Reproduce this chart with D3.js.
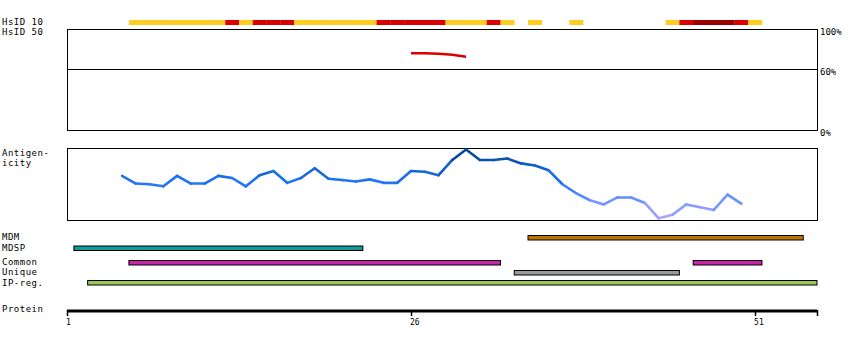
<!DOCTYPE html>
<html>
<head>
<meta charset="utf-8">
<script src="https://cdn.jsdelivr.net/npm/d3@7"></script>
<style>
  body { margin: 0; background: #fff; }
  svg { display: block; }
  text { font-family: "DejaVu Sans Mono", monospace; font-size: 9px; letter-spacing: 0.5px; fill: #000; }
</style>
</head>
<body>
<svg width="850" height="350"></svg>
<script>
// protein length and axis ticks
var proteinLength = 55;
var axisTicks = [1, 26, 51];

// HsID 10 track, one level per residue (0 none, 1 yellow, 2 red, 3 dark red), residues 1..55
var hsid10 = [0,0,0,0,0,1,1,1,1,1,1,1,2,1,2,2,2,1,1,1,1,1,1,2,2,2,2,2,1,1,1,2,1,0,1,0,0,1,0,0,0,0,0,0,1,2,3,3,3,2,1,0,0,0,0];

// HsID 50 identity (%) for residues 26..30
var hsid50Start = 26;
var hsid50 = [76, 76, 75.5, 74.5, 72.5];

// antigenicity for residues 5..50 (relative units)
var antigenStart = 5;
var antigenicity = [0.62,0.51,0.50,0.47,0.62,0.51,0.51,0.62,0.59,0.47,0.63,0.69,0.52,0.59,0.73,0.58,0.56,0.54,0.57,0.52,0.52,0.69,0.68,0.63,0.85,1.00,0.85,0.85,0.87,0.80,0.77,0.70,0.50,0.37,0.27,0.21,0.31,0.31,0.23,0.01,0.06,0.21,0.17,0.13,0.35,0.22];

// feature tracks: [row, start, end]
var features = [
  {name: "MDM",    row: 0, start: 35, end: 54, color: "#bb7700"},
  {name: "MDSP",   row: 1, start: 2,  end: 22, color: "#119a9a"},
  {name: "Common", row: 2, start: 6,  end: 32, color: "#cc22aa"},
  {name: "Common", row: 2, start: 47, end: 51, color: "#cc22aa"},
  {name: "Unique", row: 3, start: 34, end: 45, color: "#999999"},
  {name: "IP-reg.",row: 4, start: 3,  end: 55, color: "#99c855"}
];
var rowY = [235, 245.5, 260, 270, 280];

var svg = d3.select("svg");
var x = d3.scaleLinear().domain([1, proteinLength + 0.5]).range([67, 817]);

var levelColor = ["none", "#ffcc22", "#dd0000", "#990000"];

// left labels
var labels = [
  ["HsID 10", 22], ["HsID 50", 32],
  ["Antigen-", 153], ["icity", 163],
  ["MDM", 237], ["MDSP", 248],
  ["Common", 262], ["Unique", 272], ["IP-reg.", 283],
  ["Protein", 309]
];
svg.selectAll("text.lbl").data(labels).enter().append("text")
  .attr("class", "lbl")
  .attr("x", 2)
  .attr("y", function(d) { return d[1]; })
  .attr("dominant-baseline", "middle")
  .text(function(d) { return d[0]; });

// HsID 10 bar
svg.selectAll("rect.h10")
  .data(hsid10.map(function(v, i) { return {res: i + 1, v: v}; }).filter(function(d) { return d.v > 0; }))
  .enter().append("rect")
  .attr("class", "h10")
  .attr("x", function(d) { return x(d.res - 0.5); })
  .attr("width", function(d) { return x(d.res + 0.5) - x(d.res - 0.5) + 0.3; })
  .attr("y", 20)
  .attr("height", 5)
  .attr("fill", function(d) { return levelColor[d.v]; });

// HsID 50 panel
var yId = d3.scaleLinear().domain([0, 100]).range([130, 29]);
svg.append("rect")
  .attr("x", x(1) + 0.5).attr("y", yId(100) + 0.5)
  .attr("width", x(proteinLength + 0.5) - x(1)).attr("height", yId(0) - yId(100))
  .attr("fill", "none").attr("stroke", "#000");
svg.append("line")
  .attr("x1", x(1)).attr("x2", x(proteinLength + 0.5))
  .attr("y1", Math.round(yId(60)) + 0.5).attr("y2", Math.round(yId(60)) + 0.5)
  .attr("stroke", "#000");
[[100, "100%"], [60, "60%"], [0, "0%"]].forEach(function(t) {
  svg.append("text")
    .attr("x", x(proteinLength + 0.5) + 3)
    .attr("y", yId(t[0]) + 3)
    .attr("dominant-baseline", "middle")
    .style("letter-spacing", "0px")
    .text(t[1]);
});
var idLine = d3.line()
  .x(function(d, i) { return x(hsid50Start + i); })
  .y(function(d) { return yId(d); });
svg.append("path")
  .attr("d", idLine(hsid50))
  .attr("fill", "none")
  .attr("stroke", "#dd0000")
  .attr("stroke-width", 2.5);

// antigenicity panel
var yAg = d3.scaleLinear().domain([0, 1]).range([219, 149.5]);
svg.append("rect")
  .attr("x", x(1) + 0.5).attr("y", 148.5)
  .attr("width", x(proteinLength + 0.5) - x(1)).attr("height", 72)
  .attr("fill", "none").attr("stroke", "#000");
var agColor = d3.scaleLinear()
  .domain([0, 0.2, 0.5, 0.75, 1])
  .range(["#b3a3ff", "#7f9cff", "#2277ff", "#0f5fcc", "#053f85"]);
var segs = [];
for (var i = 0; i < antigenicity.length - 1; i++) {
  segs.push({a: antigenicity[i], b: antigenicity[i + 1], r: antigenStart + i});
}
svg.selectAll("line.ag").data(segs).enter().append("line")
  .attr("class", "ag")
  .attr("x1", function(d) { return x(d.r); })
  .attr("y1", function(d) { return yAg(d.a); })
  .attr("x2", function(d) { return x(d.r + 1); })
  .attr("y2", function(d) { return yAg(d.b); })
  .attr("stroke", function(d) { return agColor((d.a + d.b) / 2); })
  .attr("stroke-width", 2.6)
  .attr("stroke-linecap", "round");

// feature bars
svg.selectAll("rect.feat").data(features).enter().append("rect")
  .attr("class", "feat")
  .attr("x", function(d) { return x(d.start - 0.5); })
  .attr("y", function(d) { return rowY[d.row] + 0.5; })
  .attr("width", function(d) { return x(d.end + 0.5) - x(d.start - 0.5); })
  .attr("height", 4.5)
  .attr("fill", function(d) { return d.color; })
  .attr("stroke", "#000")
  .attr("stroke-width", 1);

// protein axis
svg.append("line")
  .attr("x1", x(1)).attr("x2", x(proteinLength + 0.5))
  .attr("y1", 311).attr("y2", 311)
  .attr("stroke", "#000").attr("stroke-width", 3);
svg.selectAll("line.tick").data(axisTicks.concat([proteinLength + 0.5])).enter().append("line")
  .attr("class", "tick")
  .attr("x1", function(d) { return Math.round(x(d)) + 0.5; })
  .attr("x2", function(d) { return Math.round(x(d)) + 0.5; })
  .attr("y1", 310).attr("y2", 316)
  .attr("stroke", "#000").attr("stroke-width", 1.5);
svg.selectAll("text.tl").data(axisTicks).enter().append("text")
  .attr("class", "tl")
  .attr("x", function(d) { return x(d) - 1; })
  .attr("y", 322)
  .attr("dominant-baseline", "middle")
  .style("letter-spacing", "0px")
  .style("font-size", "8px")
  .text(function(d) { return d; });
</script>
</body>
</html>
